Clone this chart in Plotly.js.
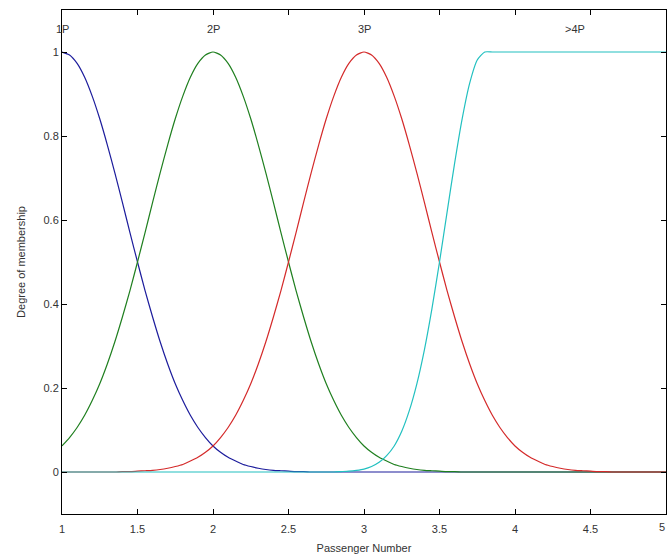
<!DOCTYPE html>
<html>
<head>
<meta charset="utf-8">
<script src="https://cdn.plot.ly/plotly-3.0.1.min.js"></script>
<style>html,body{margin:0;padding:0;background:#fff;}#chart{width:667px;height:557px;}</style>
</head>
<body>
<div id="chart"></div>
<script>
// x samples (Passenger Number), step 0.05 from 1 to 5
var xValues = [1,1.05,1.1,1.15,1.2,1.25,1.3,1.35,1.4,1.45,1.5,1.55,1.6,1.65,1.7,1.75,1.8,1.85,1.9,1.95,
  2,2.05,2.1,2.15,2.2,2.25,2.3,2.35,2.4,2.45,2.5,2.55,2.6,2.65,2.7,2.75,2.8,2.85,2.9,2.95,
  3,3.05,3.1,3.15,3.2,3.25,3.3,3.35,3.4,3.45,3.5,3.55,3.6,3.65,3.7,3.75,3.8,3.85,3.9,3.95,
  4,4.05,4.1,4.15,4.2,4.25,4.3,4.35,4.4,4.45,4.5,4.55,4.6,4.65,4.7,4.75,4.8,4.85,4.9,4.95,5];

// membership "1P" (blue)
var mf1P = [1,.993,.973,.940,.895,.841,.779,.712,.642,.570,.5,.432,.369,.310,.257,.210,.170,.135,.106,.082,
  .062,.047,.035,.026,.018,.013,.009,.006,.004,.003,.002,.001,.001,0,0,0,0,0,0,0,
  0,0,0,0,0,0,0,0,0,0,0,0,0,0,0,0,0,0,0,0,
  0,0,0,0,0,0,0,0,0,0,0,0,0,0,0,0,0,0,0,0,0];

// membership "2P" (green)
var mf2P = [.062,.082,.106,.135,.170,.210,.257,.310,.369,.432,.5,.570,.642,.712,.779,.841,.895,.940,.973,.993,
  1,.993,.973,.940,.895,.841,.779,.712,.642,.570,.5,.432,.369,.310,.257,.210,.170,.135,.106,.082,
  .062,.047,.035,.026,.018,.013,.009,.006,.004,.003,.002,.001,.001,0,0,0,0,0,0,0,
  0,0,0,0,0,0,0,0,0,0,0,0,0,0,0,0,0,0,0,0,0];

// membership "3P" (red)
var mf3P = [0,0,0,0,0,0,0,0,.001,.001,.002,.003,.004,.006,.009,.013,.018,.026,.035,.047,
  .062,.082,.106,.135,.170,.210,.257,.310,.369,.432,.5,.570,.642,.712,.779,.841,.895,.940,.973,.993,
  1,.993,.973,.940,.895,.841,.779,.712,.642,.570,.5,.432,.369,.310,.257,.210,.170,.135,.106,.082,
  .062,.047,.035,.026,.018,.013,.009,.006,.004,.003,.002,.001,.001,0,0,0,0,0,0,0,0];

// membership ">4P" (cyan)
var mf4P = [0,0,0,0,0,0,0,0,0,0,0,0,0,0,0,0,0,0,0,0,
  0,0,0,0,0,0,0,0,0,0,0,0,0,0,0,0,0,.001,.002,.004,
  .007,.013,.023,.039,.062,.097,.146,.210,.291,.389,.5,.618,.735,.841,.926,.981,1,1,1,1,
  1,1,1,1,1,1,1,1,1,1,1,1,1,1,1,1,1,1,1,1,1];

var mfNames = ["1P","2P","3P",">4P"];
var mfLabelX = [1,2,3,4.4];
var mfLabelY = 1.055;
var xTicks = [1,1.5,2,2.5,3,3.5,4,4.5,5];
var xTickText = ["1","1.5","2","2.5","3","3.5","4","4.5","5"];
var yTicks = [0,0.2,0.4,0.6,0.8,1];
var yTickText = ["0","0.2","0.4","0.6","0.8","1"];

var FONT = 'Liberation Sans, Arial, sans-serif';
var colors = ["#1c1c9c","#1f7f1f","#d42a2a","#22c0c0"];
var series = [mf1P, mf2P, mf3P, mf4P];

var traces = series.map(function(s,i){
  return {x:xValues, y:s, type:'scatter', mode:'lines', name:mfNames[i],
    line:{color:colors[i], width:1.2, shape:'spline', smoothing:0.6}, hoverinfo:'skip'};
});

var annotations = mfNames.map(function(n,i){
  return {x:mfLabelX[i], y:mfLabelY, xref:'x', yref:'y', text:n, showarrow:false,
    font:{family:FONT, size:11, color:'#333'}};
});
// last x tick label sits at the right edge of the window
annotations.push({x:xTicks[xTicks.length-1], y:0, xref:'x', yref:'paper', yanchor:'top', yshift:-5,
  xanchor:'right', xshift:1,
  text:xTickText[xTickText.length-1], showarrow:false, font:{family:FONT, size:11, color:'#333'}});

var axisCommon = {showline:true, linecolor:'#000', linewidth:1, mirror:'ticks', ticks:'inside',
  ticklen:5, tickcolor:'#000', showgrid:false, zeroline:false,
  tickfont:{family:FONT, size:11, color:'#333'}};

var layout = {
  width:667, height:557,
  margin:{l:62, r:1, t:10, b:43},
  paper_bgcolor:'#fff', plot_bgcolor:'#fff',
  showlegend:false,
  xaxis:Object.assign({}, axisCommon, {range:[1,5], tickvals:xTicks.slice(0,-1), ticktext:xTickText.slice(0,-1),
    ticklabelstandoff:5,
    title:{text:'Passenger Number', standoff:10, font:{family:FONT, size:11, color:'#333'}}}),
  yaxis:Object.assign({}, axisCommon, {range:[-0.1,1.1], tickvals:yTicks, ticktext:yTickText,
    title:{text:'Degree of membership', standoff:15, font:{family:FONT, size:11, color:'#333'}}}),
  annotations:annotations
};

Plotly.newPlot('chart', traces, layout, {staticPlot:true, displayModeBar:false});
</script>
</body>
</html>
